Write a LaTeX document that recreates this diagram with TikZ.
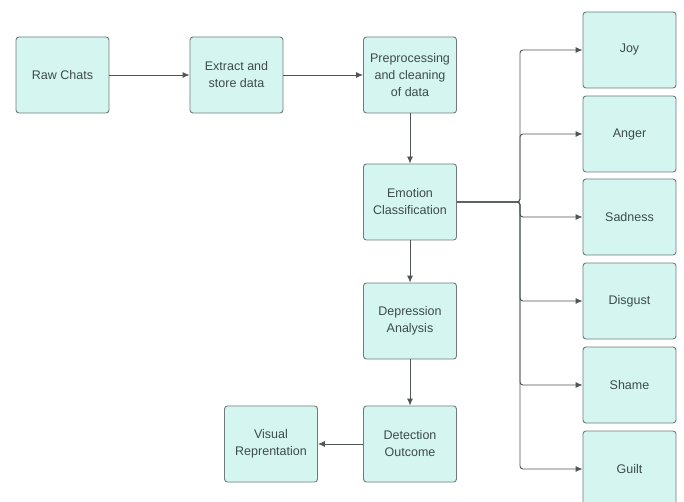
\documentclass[tikz,border=0pt]{standalone}
\usepackage{fontspec}
\setmainfont{Liberation Sans}
\usetikzlibrary{arrows.meta}

\definecolor{boxfill}{HTML}{D5F6F0}
\definecolor{boxline}{HTML}{6E7B7B}
\definecolor{boxtext}{HTML}{3D4B4B}
\definecolor{flowline}{HTML}{4F5656}

\tikzset{
  stage/.style={draw=boxline, fill=boxfill, rounded corners=3pt, line width=0.9pt,
    minimum width=93pt, minimum height=76pt, align=center, text=boxtext,
    font=\fontsize{12.5}{17}\selectfont},
  flow/.style={draw=flowline, line width=0.9pt, rounded corners=3pt,
    -{Latex[length=7pt,width=6pt]}}
}

\begin{document}
\begin{tikzpicture}[x=1pt,y=1pt]
				\useasboundingbox (0,0) rectangle (684,-502);
				% Main pipeline
				\node[stage] (raw) at (62.5,-75) {Raw Chats};
				\node[stage] (extract) at (236.5,-75) {Extract and\\store data};
				\node[stage] (prep) at (410,-75) {Preprocessing\\and cleaning\\of data};
				\node[stage] (emo) at (410,-202) {Emotion\\Classification};
				\node[stage] (dep) at (410,-321) {Depression\\Analysis};
				\node[stage] (det) at (410,-444) {Detection\\Outcome};
				\node[stage] (vis) at (271,-444) {Visual\\Reprentation};
				% Emotion classes
				\coordinate (split) at (520,-202);
				\foreach \name/\y in {Joy/50,Anger/134,Sadness/217,Disgust/301,Shame/385,Guilt/469}
					\node[stage] (\name) at (629.5,-\y) {\name};
				% Arrows
				\draw[flow] (raw) -- (extract);
				\draw[flow] (extract) -- (prep);
				\draw[flow] (prep) -- (emo);
				\draw[flow] (emo) -- (dep);
				\draw[flow] (dep) -- (det);
				\draw[flow] (det) -- (vis);
				\foreach \name in {Joy,Anger,Sadness,Disgust,Shame,Guilt}
					\draw[flow] (emo.east) -- (split) |- (\name.west);
			\end{tikzpicture}
\end{document}
